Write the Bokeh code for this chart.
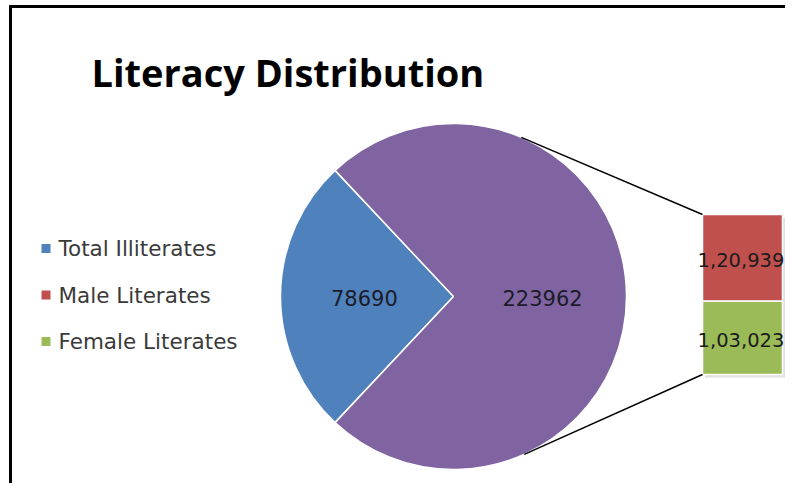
import math
from bokeh.plotting import figure
from bokeh.models import Range1d, ColumnDataSource
from bokeh.core.properties import value
from bokeh.embed import file_html
from bokeh.resources import INLINE

# ---- data ----
title_text = "Literacy Distribution"
pie_categories = ["Total Illiterates", "Literates"]
pie_values = [78690, 223962]
pie_labels = ["78690", "223962"]
bar_categories = ["Male Literates", "Female Literates"]
bar_values = [120939, 103023]
bar_labels = ["1,20,939", "1,03,023"]
legend_labels = ["Total Illiterates", "Male Literates", "Female Literates"]

BLUE, PURPLE, RED, GREEN = "#4F81BD", "#8064A2", "#C0504D", "#9BBB59"
pie_colors = [BLUE, PURPLE]
bar_colors = [GREEN, RED]       # bottom to top
legend_colors = [BLUE, RED, GREEN]

W, H = 785, 483
p = figure(width=W, height=H, x_range=Range1d(0, W), y_range=Range1d(0, H),
           x_axis_type=None, y_axis_type=None, output_backend="svg",
           toolbar_location=None, min_border=0)
p.grid.visible = False
p.outline_line_color = None
p.background_fill_color = "white"
p.border_fill_color = "white"

# chart border (top and left edges visible)
p.segment(x0=[10, 8.5], y0=[0, H - 6], x1=[10, W], y1=[H - 6, H - 6],
          line_color="black", line_width=3)

# ---- pie ----
cx, cy, r = 453.0, 187.0, 173.0
total = sum(pie_values)
half = math.pi * pie_values[0] / total
starts = [math.pi - half, math.pi + half]
ends = [math.pi + half, 3 * math.pi - half]
pie_src = ColumnDataSource(dict(start=starts, end=ends, color=pie_colors))
p.wedge(x=cx, y=cy, radius=r, start_angle="start", end_angle="end",
        fill_color="color", line_color="white", line_width=1.5, source=pie_src)

mids = [(s + e) / 2 for s, e in zip(starts, ends)]
p.text(x=[cx + 0.515 * r * math.cos(m) for m in mids],
       y=[cy - 1 + 0.515 * r * math.sin(m) for m in mids],
       text=pie_labels, text_align="center", text_baseline="middle",
       text_font=value("DejaVu Sans"), text_font_size="21px", text_color="#1c1c2a")

# ---- bar of pie ----
bar_x, bar_w = 742.0, 80.0
bar_h_total = 160.0
k = bar_h_total / sum(bar_values)
stack = [bar_values[1], bar_values[0]]       # female bottom, male top
labels_stack = [bar_labels[1], bar_labels[0]]
bottoms, tops = [], []
cur = cy + 2 - bar_h_total / 2
for v in stack:
    bottoms.append(cur)
    cur += v * k
    tops.append(cur)

# shadow
p.vbar(x=bar_x + 2.5, width=bar_w, bottom=bottoms[0] - 3, top=tops[-1] - 3,
       fill_color="black", fill_alpha=0.12, line_color=None)
p.vbar(x=bar_x, width=bar_w, bottom=bottoms, top=tops, fill_color=bar_colors,
       line_color="white", line_width=1.5)
p.text(x=[bar_x - 1.5] * 2, y=[(b + t) / 2 - 2 for b, t in zip(bottoms, tops)],
       text=labels_stack, text_align="center", text_baseline="middle",
       text_font=value("DejaVu Sans"), text_font_size="19.5px", text_color="#1c1c1c")

# connector lines tangent to the pie
def tangent(px, py, upper):
    d = math.hypot(px - cx, py - cy)
    phi = math.atan2(py - cy, px - cx)
    a = math.acos(r / d)
    th = phi + a if upper else phi - a
    return cx + r * math.cos(th), cy + r * math.sin(th)

bl = bar_x - bar_w / 2
t1 = tangent(bl, tops[-1], True)
t2 = tangent(bl, bottoms[0], False)
p.segment(x0=[t1[0], t2[0]], y0=[t1[1], t2[1]], x1=[bl, bl], y1=[tops[-1], bottoms[0]],
          line_color="black", line_width=1.5)

# ---- legend ----
leg_x, leg_y0, leg_step = 45.5, 235.0, 46.5
leg_ys = [leg_y0 - i * leg_step for i in range(len(legend_labels))]
p.rect(x=leg_x, y=leg_ys, width=9, height=9, fill_color=legend_colors, line_color=None)
p.text(x=leg_x + 12.5, y=leg_ys, text=legend_labels, text_align="left",
       text_baseline="middle", text_font=value("DejaVu Sans"),
       text_font_size="21.5px", text_color="#3a3a3a")

# ---- title ----
p.text(x=[91], y=[H - 71], text=[title_text], text_align="left", text_baseline="alphabetic",
       text_font=value("Open Sans"), text_font_style="bold", text_font_size="38px",
       text_color="black")

open("out.html", "w").write(file_html(p, INLINE))
